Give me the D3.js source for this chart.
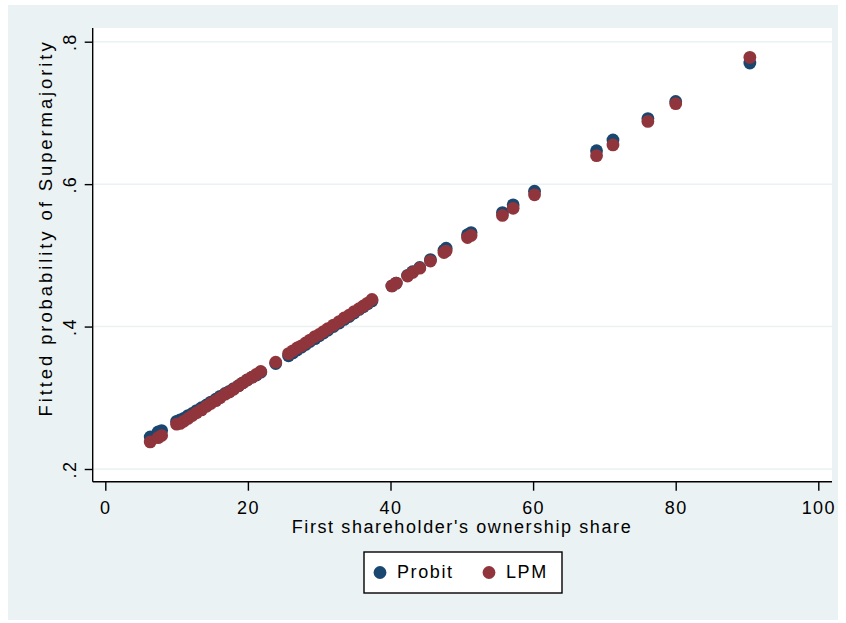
<!DOCTYPE html>
<html><head><meta charset="utf-8">
<script src="https://cdn.jsdelivr.net/npm/d3@7"></script>
<style>html,body{margin:0;padding:0;background:#fff}svg{display:block}text{font-family:"Liberation Sans",Arial,sans-serif;fill:#000}</style>
</head><body><div id="chart"></div>
<script>
const shareX = [6.3,7.4,7.9,10.0,10.5,11.0,11.6,12.2,12.8,13.5,14.2,14.8,15.5,16.1,16.8,17.4,18.0,18.7,19.3,19.9,20.6,21.2,21.8,23.9,25.7,26.3,26.9,27.5,28.1,28.7,29.4,30.0,30.6,31.2,32.0,32.8,33.5,34.2,34.9,35.6,36.2,36.8,37.4,40.2,40.8,42.4,43.1,44.1,45.6,47.5,47.8,50.8,51.3,55.7,57.2,60.2,68.9,71.2,76.1,80.0,90.4];
const probit = [0.245,0.252,0.254,0.267,0.269,0.271,0.275,0.278,0.282,0.286,0.290,0.294,0.298,0.302,0.306,0.309,0.313,0.317,0.321,0.325,0.329,0.332,0.336,0.348,0.359,0.363,0.367,0.371,0.375,0.379,0.383,0.387,0.391,0.395,0.400,0.405,0.410,0.414,0.419,0.424,0.428,0.432,0.436,0.457,0.461,0.472,0.477,0.483,0.494,0.507,0.510,0.529,0.532,0.560,0.571,0.590,0.647,0.662,0.692,0.716,0.770];
const lpm = [0.238,0.244,0.247,0.263,0.264,0.267,0.271,0.275,0.279,0.283,0.288,0.292,0.296,0.300,0.305,0.308,0.312,0.317,0.321,0.325,0.329,0.333,0.337,0.350,0.362,0.366,0.370,0.373,0.377,0.381,0.386,0.389,0.393,0.397,0.402,0.407,0.412,0.416,0.421,0.425,0.429,0.433,0.438,0.457,0.461,0.471,0.476,0.482,0.492,0.504,0.506,0.525,0.528,0.556,0.566,0.585,0.640,0.655,0.688,0.713,0.778];
const xTicks = [0,20,40,60,80,100];
const yTicks = [0.2,0.4,0.6,0.8];
const yTickLabels = [".2",".4",".6",".8"];
const seriesNames = ["Probit","LPM"];
const seriesColors = ["#1a476f","#90353b"];

const W=846,H=623;
const svg=d3.select("#chart").append("svg").attr("width",W).attr("height",H);
svg.append("rect").attr("x",0).attr("y",0).attr("width",W).attr("height",H).attr("fill","#fff");
svg.append("rect").attr("x",8).attr("y",5).attr("width",830).attr("height",615).attr("fill","#eaf2f3");
const pL=92.7,pR=832,pT=28,pB=481.7;
svg.append("rect").attr("x",pL).attr("y",pT).attr("width",pR-pL).attr("height",pB-pT).attr("fill","#fff");

const x=d3.scaleLinear().domain([0,100]).range([105.3,818.3]);
const y=d3.scaleLinear().domain([0.2,0.8]).range([469,41.7]);
const ls="1.4px";

// gridlines
svg.append("g").selectAll("line").data(yTicks).join("line")
  .attr("x1",pL).attr("x2",pR).attr("y1",d=>y(d)).attr("y2",d=>y(d))
  .attr("stroke","#eaf2f3").attr("stroke-width",1.5);

// axes
const xAxis=d3.axisBottom(x).tickValues(xTicks).tickSize(9).tickPadding(6).tickFormat(d3.format("d"));
const gx=svg.append("g").attr("transform",`translate(0,${pB})`).call(xAxis);
gx.select(".domain").remove();
gx.selectAll(".tick line").attr("stroke","#000").attr("stroke-width",1.4);
gx.selectAll(".tick text").attr("font-size",18).style("letter-spacing",ls).attr("dy",null).attr("y",32);
svg.append("line").attr("x1",pL).attr("x2",pR).attr("y1",pB).attr("y2",pB).attr("stroke","#000").attr("stroke-width",1.4);

const yAxis=d3.axisLeft(y).tickValues(yTicks).tickSize(8).tickFormat((d,i)=>yTickLabels[i]);
const gy=svg.append("g").attr("transform",`translate(${pL},0)`).call(yAxis);
gy.select(".domain").remove();
gy.selectAll(".tick line").attr("stroke","#000").attr("stroke-width",1.4);
gy.selectAll(".tick text").attr("font-size",18).style("letter-spacing",ls)
  .attr("x",null).attr("dy",null).attr("text-anchor","middle")
  .attr("transform","translate(-17,0) rotate(-90)");
svg.append("line").attr("x1",pL).attr("x2",pL).attr("y1",pT).attr("y2",pB).attr("stroke","#000").attr("stroke-width",1.4);

// titles
svg.append("text").attr("x",462).attr("y",533).attr("text-anchor","middle").attr("font-size",18).style("letter-spacing","1.6px")
  .text("First shareholder's ownership share");
svg.append("text").attr("transform","translate(52,228) rotate(-90)").attr("text-anchor","middle").attr("font-size",18.5).style("letter-spacing","2.9px")
  .text("Fitted probability of Supermajority");

// points
const pts=[probit,lpm];
pts.forEach((vals,si)=>{
  svg.append("g").selectAll("circle").data(shareX).join("circle")
    .attr("cx",d=>x(d)).attr("cy",(d,i)=>y(vals[i])).attr("r",6.4)
    .attr("fill",seriesColors[si]);
});

// legend
const lg=svg.append("g");
lg.append("rect").attr("x",364).attr("y",552).attr("width",198).attr("height",41).attr("fill","#fff").attr("stroke","#000").attr("stroke-width",1.4);
const legX=[380,489];
seriesNames.forEach((n,i)=>{
  lg.append("circle").attr("cx",legX[i]).attr("cy",572.5).attr("r",6.4).attr("fill",seriesColors[i]);
  lg.append("text").attr("x",legX[i]+17).attr("y",578).attr("font-size",18).style("letter-spacing","1.6px").text(n);
});
</script></body></html>
